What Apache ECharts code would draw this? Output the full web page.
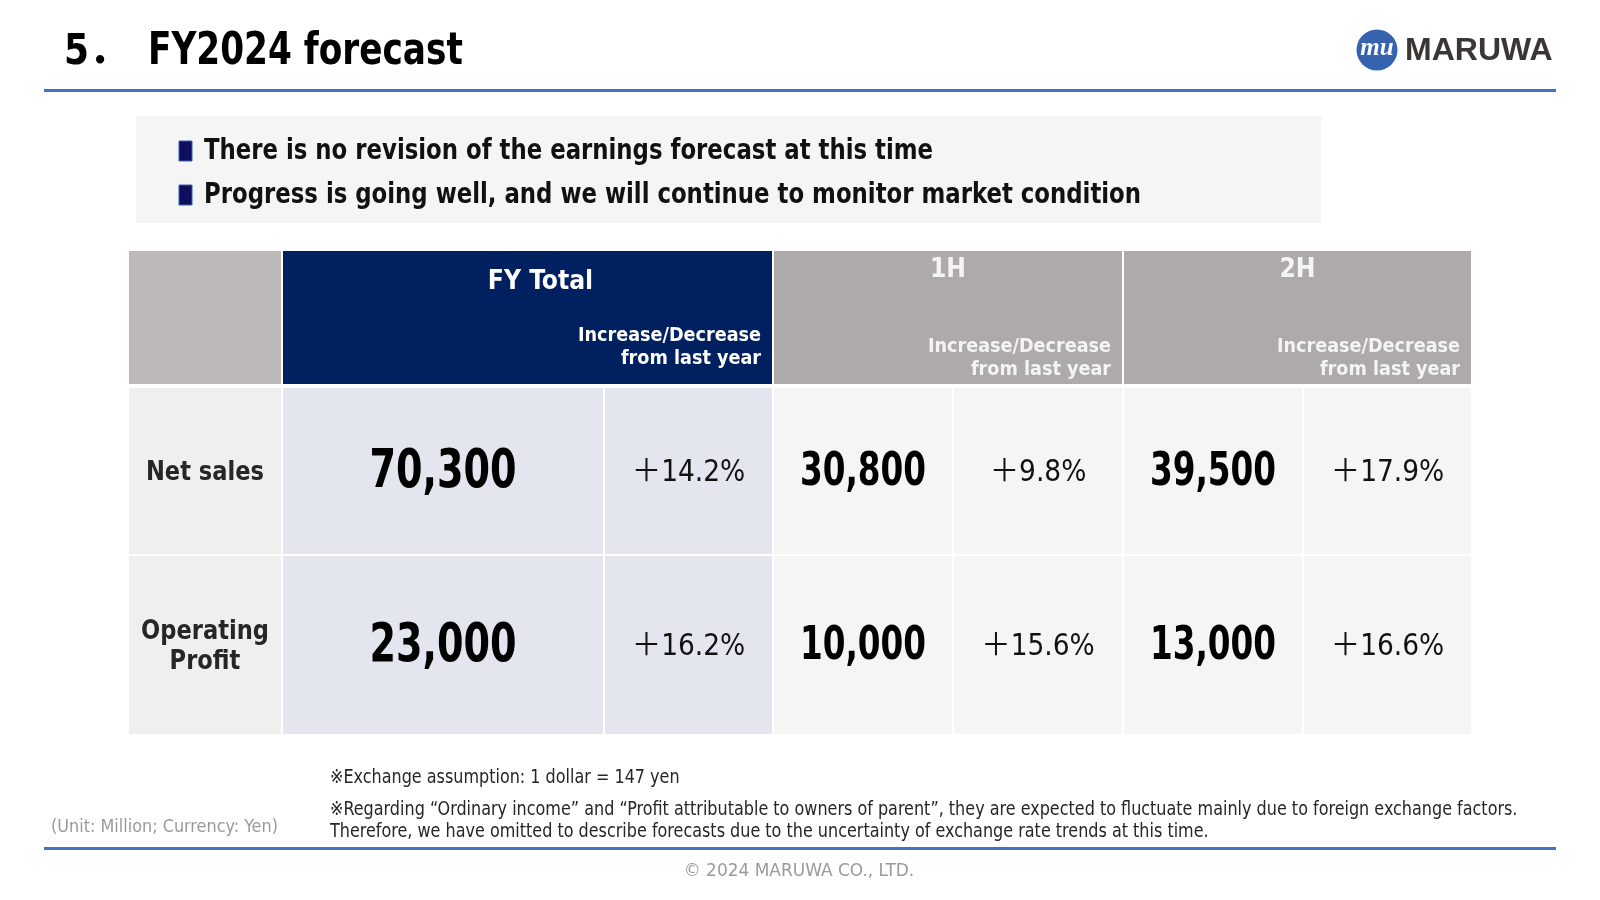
<!DOCTYPE html>
<html>
<head>
<meta charset="utf-8">
<script src="https://cdn.jsdelivr.net/npm/echarts@6/dist/echarts.min.js"></script>
<style>
  html, body { margin: 0; padding: 0; background: #ffffff; }
  #chart { width: 1600px; height: 900px; }
</style>
</head>
<body>
<div id="chart"></div>
<script>
// ---------------- data ----------------
const slideTitleNo = '5．';
const slideTitle = 'FY2024 forecast';
const bullets = [
  'There is no revision of the earnings forecast at this time',
  'Progress is going well, and we will continue to monitor market condition'
];
const metrics = ['Net sales', 'Operating\nProfit'];
const periods = ['FY Total', '1H', '2H'];
const changeLabel = 'Increase/Decrease\nfrom last year';
const fyValues = [70300, 23000];
const fyChange = [14.2, 16.2];
const h1Values = [30800, 10000];
const h1Change = [9.8, 15.6];
const h2Values = [39500, 13000];
const h2Change = [17.9, 16.6];
const notes = [
  '※Exchange assumption: 1 dollar = 147 yen',
  '※Regarding “Ordinary income” and “Profit attributable to owners of parent”, they are expected to fluctuate mainly due to foreign exchange factors.\nTherefore, we have omitted to describe forecasts due to the uncertainty of exchange rate trends at this time.'
];
const unitNote = '(Unit: Million; Currency: Yen)';
const copyright = '© 2024 MARUWA CO., LTD.';
const logoText = 'MARUWA';

// ---------------- layout (not data) ----------------
const colWidths = [154, 322, 169, 180, 170, 180, 169];
const rowHeights = [137, 168, 180];
const colEdges = [0];
colWidths.forEach(w => colEdges.push(colEdges[colEdges.length - 1] + w));
const rowEdges = [0];
rowHeights.forEach(h => rowEdges.push(rowEdges[rowEdges.length - 1] + h));

const NARROW = '"Liberation Sans Narrow", "DejaVu Sans Condensed", "Noto Sans CJK JP", sans-serif';

function fmtNum(v) { return v.toLocaleString('en-US'); }
function fmtPct(v) { return (v >= 0 ? '＋' : '－') + Math.abs(v).toFixed(1) + '%'; }

// build table cells from the arrays
const valueSets = [fyValues, h1Values, h2Values];
const changeSets = [fyChange, h1Change, h2Change];
const cells = [];
cells.push({ c0: 0, c1: 0, r: 0, kind: 'corner', fill: '#bdb9b8' });
periods.forEach((p, k) => {
  cells.push({ c0: 1 + 2 * k, c1: 2 + 2 * k, r: 0, kind: 'group', title: p, sub: changeLabel,
    fill: k === 0 ? '#002060' : '#aeaaaa', first: k === 0 });
});
metrics.forEach((m, r) => {
  cells.push({ c0: 0, c1: 0, r: r + 1, kind: 'label', text: m, fill: '#efefef' });
  periods.forEach((p, k) => {
    const bg = k === 0 ? '#e3e6ef' : '#f5f5f5';
    cells.push({ c0: 1 + 2 * k, c1: 1 + 2 * k, r: r + 1, kind: 'value', text: fmtNum(valueSets[k][r]), fill: bg, big: k === 0 });
    cells.push({ c0: 2 + 2 * k, c1: 2 + 2 * k, r: r + 1, kind: 'change', text: fmtPct(changeSets[k][r]), fill: bg });
  });
});

function txt(x, y, text, font, fill, align, valign, lh, sx) {
  return {
    type: 'text',
    x: x, y: y, scaleX: sx || 1, scaleY: 1,
    style: { text: text, font: font, fill: fill,
      align: align, verticalAlign: valign, textAlign: align, textVerticalAlign: valign,
      lineHeight: lh }
  };
}

function renderItem(params, api) {
  const cell = cells[api.value(3)];
  const p0 = api.coord([colEdges[cell.c0], rowEdges[cell.r]]);
  const p1 = api.coord([colEdges[cell.c1 + 1], rowEdges[cell.r + 1]]);
  const x = p0[0] + 1, y = p0[1] + 1;
  const w = p1[0] - p0[0] - 2;
  const h = p1[1] - p0[1] - 2 - (cell.r === 0 ? 2 : 0);
  const children = [{ type: 'rect', shape: { x: x, y: y, width: w, height: h }, style: { fill: cell.fill } }];
  const cx = x + w / 2, cy = y + h / 2 + 2;
  if (cell.kind === 'group') {
    const tOff = cell.first ? 31 : 19;
    const sOff = cell.first ? 26 : 15;
    const col = cell.first ? '#ffffff' : '#f4f4f4';
    children.push(txt(cx + (cell.first ? 13 : 0), y + tOff, cell.title, 'bold 27px ' + NARROW, col, 'center', 'middle', 30, 0.97));
    children.push(txt(x + w - 11, y + h - sOff - 34, cell.sub, 'bold 20px ' + NARROW, col, 'right', 'top', 23, 0.98));
  } else if (cell.kind === 'label') {
    children.push(txt(cx, cy, cell.text, 'bold 27px ' + NARROW, '#262626', 'center', 'middle', 30, 0.93));
  } else if (cell.kind === 'value') {
    children.push(txt(cx, cy, cell.text, 'bold ' + (cell.big ? 53 : 46) + 'px ' + NARROW, '#000000', 'center', 'middle', 56, cell.big ? 0.8 : 0.79));
  } else if (cell.kind === 'change') {
    children.push(txt(cx, cy, cell.text, '31px ' + NARROW, '#111111', 'center', 'middle', 34, 0.95));
  }
  return { type: 'group', children: children };
}

const chart = echarts.init(document.getElementById('chart'), null, { renderer: 'canvas' });

function gtext(x, y, text, font, fill, align, valign, sx, lh) {
  return { type: 'text', x: x, y: y, scaleX: sx || 1, scaleY: 1,
    style: { text: text, font: font, fill: fill, align: align, verticalAlign: valign,
      textAlign: align, textVerticalAlign: valign, lineHeight: lh } };
}

const graphics = [
  // title
  gtext(64, 53, slideTitleNo, 'bold 42px ' + NARROW, '#000', 'left', 'middle', 0.95),
  gtext(148, 53, slideTitle, 'bold 44px ' + NARROW, '#000', 'left', 'middle', 0.867),
  // top rule
  { type: 'rect', shape: { x: 44, y: 89, width: 1512, height: 3 }, style: { fill: '#4472c4' } },
  // logo
  { type: 'circle', shape: { cx: 1377, cy: 50, r: 20.5 }, style: { fill: '#3563af' } },
  gtext(1377, 49, 'mu', 'bold italic 25px "Liberation Serif", serif', '#ffffff', 'center', 'middle', 1),
  gtext(1405, 51, logoText, 'bold 32px "Liberation Sans", Arial, sans-serif', '#3a3636', 'left', 'middle', 1),
  // bullet box
  { type: 'rect', shape: { x: 136, y: 116, width: 1185, height: 107 }, style: { fill: '#f5f5f5' } },
  // bottom rule
  { type: 'rect', shape: { x: 44, y: 847, width: 1512, height: 3 }, style: { fill: '#4472c4' } },
  // unit + copyright
  gtext(51, 827, unitNote, '17.5px ' + NARROW, '#9a9a9a', 'left', 'middle', 1.02),
  gtext(799, 871, copyright, '18.5px ' + NARROW, '#9a9a9a', 'center', 'middle', 1.02)
];
bullets.forEach((b, i) => {
  const cyB = 151 + i * 44;
  graphics.push({ type: 'rect', shape: { x: 179, y: cyB - 10, width: 13, height: 20 }, style: { fill: '#0b0f5e', stroke: '#3a62b0', lineWidth: 1 } });
  graphics.push(gtext(204, cyB, b, 'bold 29px ' + NARROW, '#111111', 'left', 'middle', 0.875));
});
notes.forEach((n, i) => {
  graphics.push(gtext(330, i === 0 ? 767 : 799, n, '19px ' + NARROW, '#262626', 'left', 'top', 0.937, 22));
});

chart.setOption({
  animation: false,
  backgroundColor: '#ffffff',
  grid: { left: 128, top: 250, width: colEdges[colEdges.length - 1], height: rowEdges[rowEdges.length - 1] },
  xAxis: { type: 'value', min: 0, max: colEdges[colEdges.length - 1], show: false },
  yAxis: { type: 'value', min: 0, max: rowEdges[rowEdges.length - 1], inverse: true, show: false },
  graphic: graphics,
  series: [{
    type: 'custom',
    renderItem: renderItem,
    data: cells.map((c, i) => [c.c0, c.c1, c.r, i]),
    encode: { x: [0, 1], y: 2 },
    silent: true
  }]
});
</script>
</body>
</html>
